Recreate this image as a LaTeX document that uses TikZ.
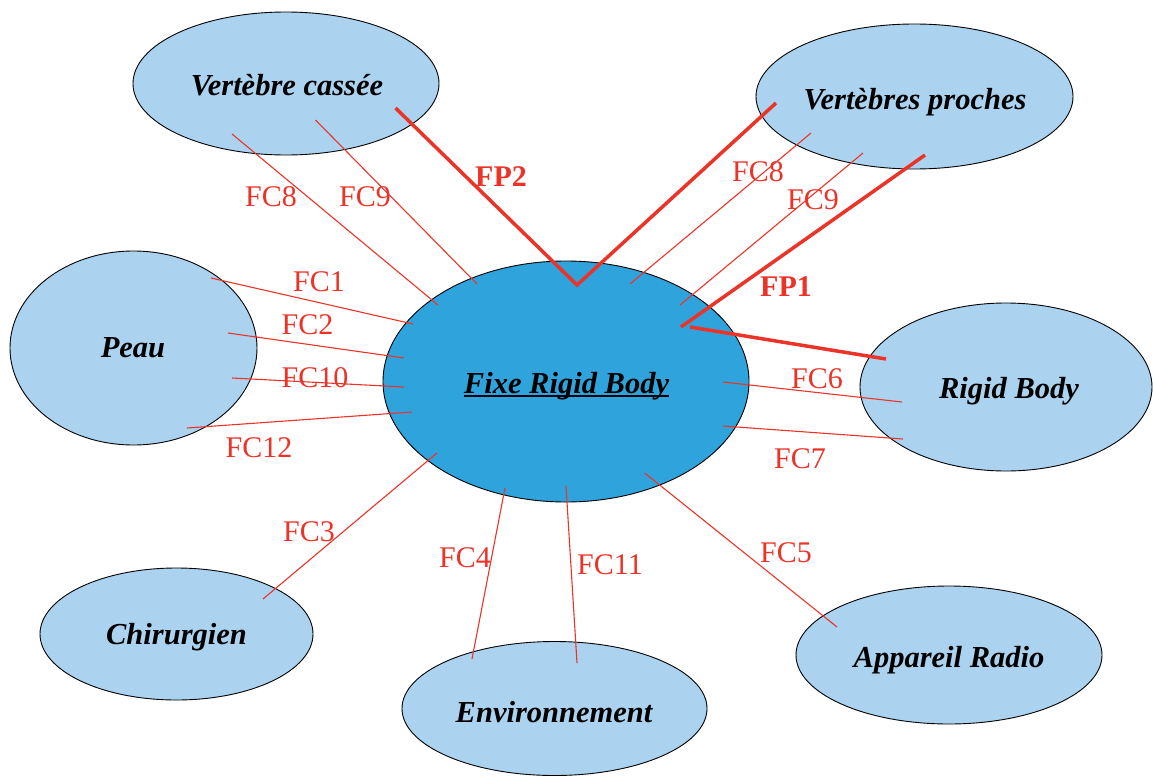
\documentclass[tikz,border=0pt]{standalone}
\usepackage{fontspec}
\setmainfont{Liberation Serif}
\usetikzlibrary{shapes.geometric}
\definecolor{lightb}{RGB}{171,211,240}
\definecolor{centb}{RGB}{47,163,219}
\definecolor{fred}{RGB}{236,51,40}
\begin{document}
\begin{tikzpicture}[x=1pt,y=-1pt,
  ell/.style={ellipse, draw=black, line width=0.9pt, fill=lightb, inner sep=0pt},
  ntext/.style={font=\fontsize{30.5}{36}\selectfont\bfseries\itshape, inner sep=0pt, anchor=base},
  fclab/.style={font=\fontsize{30}{36}\selectfont, text=fred, inner sep=0pt},
  fplab/.style={font=\fontsize{30}{36}\selectfont\bfseries, text=fred, inner sep=0pt},
  fc/.style={draw=fred, line width=1.1pt},
  fp/.style={draw=fred, line width=3.5pt}]
\useasboundingbox (0,0) rectangle (1153,776);
\fill[white] (0,0) rectangle (1153,776);

% ellipses
\node[ell, minimum width=306, minimum height=143] (vc) at (286,83.5) {};
\node[ell, minimum width=317, minimum height=145] (vp) at (914.5,96.5) {};
\node[ell, minimum width=247, minimum height=194] (peau) at (133.5,348) {};
\node[ell, fill=centb, minimum width=366, minimum height=241] (fixe) at (566,381.5) {};
\node[ell, minimum width=292, minimum height=168] (rb) at (1006,387) {};
\node[ell, minimum width=273, minimum height=132] (chir) at (176.5,634) {};
\node[ell, minimum width=305, minimum height=134] (env) at (554.5,708.5) {};
\node[ell, minimum width=306, minimum height=138] (app) at (949,655) {};

% texts
\node[ntext] (tvc) at (287,95) {Vertèbre cassée};
\node[ntext] (tvp) at (915,109) {Vertèbres proches};
\node[ntext] (tpeau) at (133,357) {Peau};
\node[ntext] (tfixe) at (566.5,393) {Fixe Rigid Body};
\draw[line width=1.8pt] ([yshift=-3pt]tfixe.base west) -- ([yshift=-3pt]tfixe.base east);
\node[ntext] (trb) at (1009,398) {Rigid Body};
\node[ntext] (tchir) at (176.5,644) {Chirurgien};
\node[ntext] (tenv) at (554,722) {Environnement};
\node[ntext] (tapp) at (949,667) {Appareil Radio};

% connector end points
\coordinate (vc8) at (232,134);   \coordinate (fx8l) at (438,305);
\coordinate (vc9) at (315.5,120); \coordinate (fx9l) at (477,284);
\coordinate (vcp) at (395.5,108); \coordinate (fxv) at (577,285);
\coordinate (vpp) at (776,103);
\coordinate (vp8) at (811,133);   \coordinate (fx8r) at (630,284);
\coordinate (vp9) at (863,153);   \coordinate (fx9r) at (680,305);
\coordinate (vp1) at (925,155);   \coordinate (fxp1) at (681,327);
\coordinate (fxp1b) at (690,327); \coordinate (rbp1) at (886,359);
\coordinate (pe1) at (211,278);   \coordinate (fx1) at (413,324);
\coordinate (pe2) at (228,333);   \coordinate (fx2) at (404,358);
\coordinate (pe10) at (232,378);  \coordinate (fx10) at (404,387);
\coordinate (pe12) at (187,428);  \coordinate (fx12) at (412,412);
\coordinate (fx6) at (723,382);   \coordinate (rb6) at (902,402);
\coordinate (fx7) at (723,426);   \coordinate (rb7) at (903,439);
\coordinate (fx3) at (437,453);   \coordinate (ch3) at (263,599);
\coordinate (fx4) at (505,488);   \coordinate (en4) at (472,659);
\coordinate (fx11) at (566,486);  \coordinate (en11) at (577,663);
\coordinate (fx5) at (644.6,473); \coordinate (ap5) at (837,627);

% thin connectors
\draw[fc] (vc8) -- (fx8l);
\draw[fc] (vc9) -- (fx9l);
\draw[fc] (vp8) -- (fx8r);
\draw[fc] (vp9) -- (fx9r);
\draw[fc] (pe1) -- (fx1);
\draw[fc] (pe2) -- (fx2);
\draw[fc] (pe10) -- (fx10);
\draw[fc] (pe12) -- (fx12);
\draw[fc] (fx6) -- (rb6);
\draw[fc] (fx7) -- (rb7);
\draw[fc] (fx3) -- (ch3);
\draw[fc] (fx4) -- (en4);
\draw[fc] (fx11) -- (en11);
\draw[fc] (fx5) -- (ap5);

% thick connectors
\draw[fp] (vcp) -- (fxv) -- (vpp);
\draw[fp] (vp1) -- (fxp1);
\draw[fp] (fxp1b) -- (rbp1);

% labels
\node[fclab] (l8l) at (271,197) {FC8};
\node[fclab] (l9l) at (365,197) {FC9};
\node[fplab] (lfp2) at (501,177) {FP2};
\node[fclab] (l8r) at (758,172) {FC8};
\node[fclab] (l9r) at (813,200) {FC9};
\node[fplab] (lfp1) at (786,287) {FP1};
\node[fclab] (l1) at (319,282) {FC1};
\node[fclab] (l2) at (307.5,325) {FC2};
\node[fclab] (l10) at (315,378) {FC10};
\node[fclab] (l12) at (259,448) {FC12};
\node[fclab] (l6) at (817,379) {FC6};
\node[fclab] (l7) at (800,459) {FC7};
\node[fclab] (l3) at (309,532) {FC3};
\node[fclab] (l4) at (465,558) {FC4};
\node[fclab] (l11) at (610,565) {FC11};
\node[fclab] (l5) at (786,553) {FC5};
\end{tikzpicture}
\end{document}
